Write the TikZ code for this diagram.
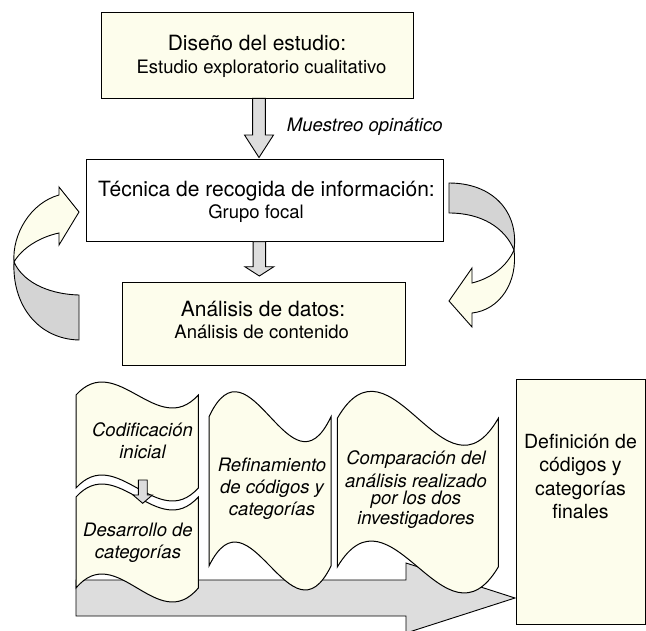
\documentclass[tikz,border=0pt]{standalone}
\usepackage{fontspec}
\setmainfont{TeX Gyre Heros}
\usetikzlibrary{calc}
\definecolor{paleY}{RGB}{253,253,236}
\definecolor{blkgray}{RGB}{221,221,221}
\definecolor{ribgray}{RGB}{212,212,212}
\newcommand\wavepath[6]{(#1,#3) .. controls ({#1+(#2-#1)/3},{#3-3.46*#4}) and ({#1+2*(#2-#1)/3},{#3+3.46*#4}) .. (#2,#3) -- (#2,#5) .. controls ({#1+2*(#2-#1)/3},{#5+3.46*#6}) and ({#1+(#2-#1)/3},{#5-3.46*#6}) .. (#1,#5) -- cycle}
\begin{document}
\begin{tikzpicture}[x=1pt,y=-1pt,
  pale/.style={draw=black,fill=paleY,line width=1pt},
  whitebox/.style={draw=black,fill=white,line width=1pt},
  boxnode/.style={rectangle,inner sep=0pt,outer sep=0pt,line width=1pt},
  blk/.style={draw=black,fill=blkgray,line width=0.9pt,line join=miter},
  rib/.style={draw=black,line width=0.9pt},
  tbig/.style={font=\fontsize{21}{25}\selectfont,anchor=base,inner sep=0pt},
  tmid/.style={font=\fontsize{18.5}{22}\selectfont,anchor=base,inner sep=0pt},
  tdef/.style={font=\fontsize{19.5}{23}\selectfont,anchor=base,inner sep=0pt},
  tit/.style={font=\fontsize{18.5}{22}\selectfont\itshape,anchor=base,inner sep=0pt}]
\useasboundingbox (0,0) rectangle (646,630);

% ---- top boxes
\node[boxnode,pale,minimum width=312pt,minimum height=85.6pt] (box1) at (257,55.5) {};
\node[tbig] (b1a) at (257,50) {Diseño del estudio:};
\node[tmid] (b1b) at (261.5,73) {Estudio exploratorio cualitativo};

\node[boxnode,whitebox,minimum width=357.3pt,minimum height=82.2pt] (box2) at (264.65,200.6) {};
\node[tbig] (b2a) at (266.5,196) {Técnica de recogida de información:};
\node[tmid] (b2b) at (256,218) {Grupo focal};

\node[boxnode,pale,minimum width=282.3pt,minimum height=82.3pt] (box3) at (263.85,323.85) {};
\node[tbig] (b3a) at (263,316) {Análisis de datos:};
\node[tmid] (b3b) at (261.7,338) {Análisis de contenido};

% ---- down block arrows
\coordinate (a1) at ($(box1.south)+(2,0)$);
\draw[blk] ($(a1)+(-6.4,0)$) -- ($(a1)+(-6.4,36.7)$) -- ($(a1)+(-14.5,36.7)$)
  -- ($(box2.north -| a1)+(0,-2)$) -- ($(a1)+(14.5,36.7)$) -- ($(a1)+(6.4,36.7)$) -- ($(a1)+(6.4,0)$) -- cycle;
\node[tit,anchor=base west] (muestreo) at (286.7,131.7) {Muestreo opinático};

\coordinate (a2) at ($(box2.south)+(-5.3,0)$);
\draw[blk] ($(a2)+(-6.2,0)$) -- ($(a2)+(-6.2,25)$) -- ($(a2)+(-14.5,25)$)
  -- ($(box3.north -| a2)+(0,-6.7)$) -- ($(a2)+(14.5,25)$) -- ($(a2)+(6.2,25)$) -- ($(a2)+(6.2,0)$) -- cycle;

% ---- left curved arrow
\draw[rib,fill=ribgray] (79,295) -- (79,340) .. controls (38,339) and (12,305) .. (14,262)
  .. controls (22,280) and (45,294) .. (79,295) -- cycle;
\draw[rib,fill=paleY] (14,262) .. controls (12,235) and (30,203) .. (59,195) -- (59,187) -- (79,212)
  -- (59,245) -- (59,233) .. controls (40,237) and (22,248) .. (14,262) -- cycle;

% ---- right curved arrow
\draw[rib,fill=ribgray] (449,183) .. controls (493,183) and (519,212) .. (514,250)
  .. controls (505,228) and (482,213) .. (449,213) -- cycle;
\draw[rib,fill=paleY] (514,250) .. controls (518,282) and (500,310) .. (472,313) -- (472,327) -- (449,301)
  -- (472,268) -- (472,283) .. controls (492,278) and (507,266) .. (514,250) -- cycle;

% ---- final box
\node[boxnode,pale,minimum width=129pt,minimum height=245pt] (defbox) at (580.5,501.5) {};
\node[tdef] (d1) at (580.5,448) {Definición de};
\node[tdef] (d2) at (580.5,471.5) {códigos y};
\node[tdef] (d3) at (580.5,495) {categorías};
\node[tdef] (d4) at (580.5,518) {finales};

% ---- big gray arrow
\coordinate (bigtip) at ($(defbox.south west)+(-1,-26)$);
\draw[blk] (76,580) -- (406,580) -- (406,563) -- (bigtip) -- (406,633) -- (406,616) -- (76,616) -- cycle;

% ---- wave shapes
\draw[pale] \wavepath{76}{198.3}{395}{13}{488}{13};
\draw[pale] \wavepath{76}{198.3}{497}{13}{588}{14};
\draw[pale] \wavepath{209}{331}{416.7}{25}{566}{24};
\draw[pale] \wavepath{337.3}{498.3}{418.3}{27}{567}{26};

% small arrow inside first column
\draw[blk] (138.3,480) -- (138.3,495) -- (133,495) -- (142.7,503.3) -- (152.4,495) -- (147.2,495) -- (147.2,480) -- cycle;

% texts in wave shapes
\node[tit] (c1) at (142.5,436.7) {Codificación};
\node[tit] (c2) at (142.5,458.5) {inicial};
\node[tit] (c3) at (138,536.7) {Desarrollo de};
\node[tit] (c4) at (138,558.3) {categorías};
\node[tit] (r1) at (272,471) {Refinamiento};
\node[tit] (r2) at (272,493) {de códigos y};
\node[tit] (r3) at (272,515) {categorías};
\node[tit] (k1) at (416,464) {Comparación del};
\node[tit] (k2) at (416,487) {análisis realizado};
\node[tit] (k3) at (416,504) {por los dos};
\node[tit] (k4) at (416,524) {investigadores};
\end{tikzpicture}
\end{document}
